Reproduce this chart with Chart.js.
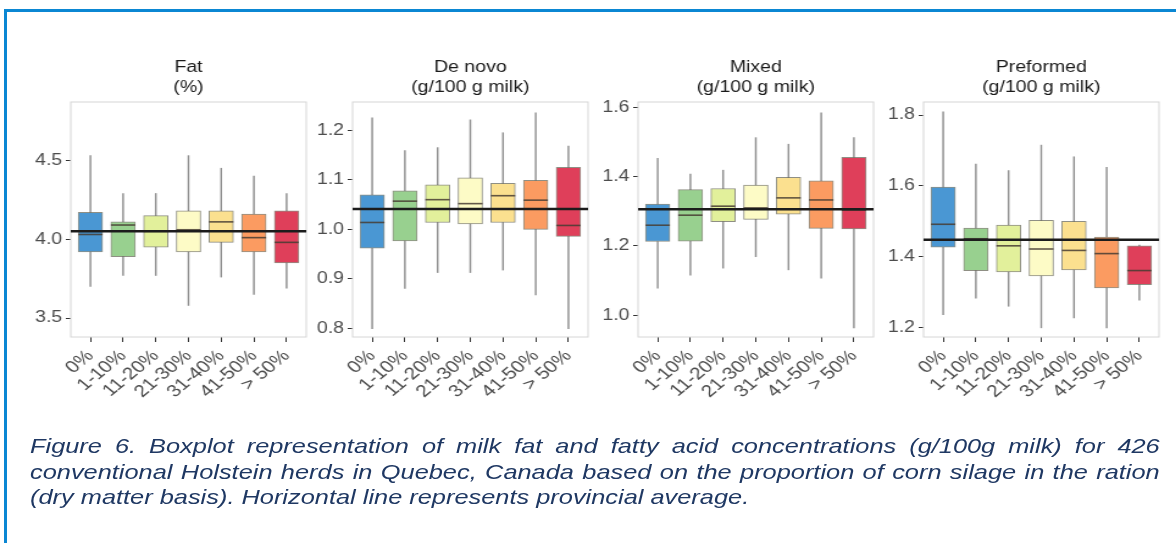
<!DOCTYPE html>
<html>
<head>
<meta charset="utf-8">
<script src="https://cdn.jsdelivr.net/npm/chart.js@4.4.1/dist/chart.umd.min.js"></script>
<style>
  html, body { margin: 0; padding: 0; background: #fff; }
  body { width: 1176px; height: 543px; position: relative; overflow: hidden; }
  .edge-top { position: absolute; left: 4px; top: 9px; width: 1172px; height: 3px; background: #0b87d3; }
  .edge-left { position: absolute; left: 4px; top: 9px; width: 3px; height: 534px; background: #0b87d3; }
  /* the reference figure is stretched sideways, so the whole page is too */
  #page { position: absolute; left: 0; top: 0; width: 964px; height: 543px; transform: scaleX(1.22); transform-origin: 0 0; }
  .panel { position: absolute; top: 50px; width: 242px; height: 360px; }
  .panel canvas { width: 242px; height: 360px; }
  .caption { position: absolute; left: 24.6px; top: 433px; width: 926px;
    font-family: 'Liberation Sans', Arial, sans-serif; font-style: italic;
    font-size: 20.8px; line-height: 25.5px; color: #1f3863; }
  .caption .j { text-align: justify; text-align-last: justify; }
</style>
</head>
<body>
<div class="edge-top"></div>
<div class="edge-left"></div>
<div id="page">
  <div class="panel" style="left:13.2px"><canvas id="fatChart" width="242" height="360"></canvas></div>
  <div class="panel" style="left:244.3px"><canvas id="denovoChart" width="242" height="360"></canvas></div>
  <div class="panel" style="left:478px"><canvas id="mixedChart" width="242" height="360"></canvas></div>
  <div class="panel" style="left:711.6px"><canvas id="preformedChart" width="242" height="360"></canvas></div>
  <div class="caption">
    <div class="j">Figure 6. Boxplot representation of milk fat and fatty acid concentrations (g/100g milk) for 426</div>
    <div class="j">conventional Holstein herds in Quebec, Canada based on the proportion of corn silage in the ration</div>
    <div>(dry matter basis). Horizontal line represents provincial average.</div>
  </div>
</div>
<script>
const silageLabels = ["0%", "1-10%", "11-20%", "21-30%", "31-40%", "41-50%", "> 50%"];
const boxColors = ["#4a97d3", "#98d08f", "#e2f09b", "#fdfbc6", "#fbe08f", "#fb9b61", "#df3f5a"];

// Fat (%)
const fatLow = [3.70, 3.77, 3.77, 3.58, 3.76, 3.65, 3.69];
const fatQ1 = [3.92, 3.89, 3.95, 3.92, 3.98, 3.92, 3.85];
const fatMed = [4.03, 4.09, 4.05, 4.06, 4.11, 4.01, 3.98];
const fatQ3 = [4.17, 4.11, 4.15, 4.18, 4.18, 4.16, 4.18];
const fatHigh = [4.53, 4.29, 4.29, 4.53, 4.45, 4.40, 4.29];
const fatAvg = 4.05;
const fatTicks = [3.5, 4.0, 4.5];

// De novo (g/100 g milk)
const denovoLow = [0.80, 0.881, 0.913, 0.913, 0.918, 0.868, 0.80];
const denovoQ1 = [0.962, 0.977, 1.014, 1.011, 1.014, 1.0, 0.986];
const denovoMed = [1.014, 1.057, 1.060, 1.052, 1.068, 1.059, 1.008];
const denovoQ3 = [1.070, 1.078, 1.090, 1.104, 1.093, 1.099, 1.125];
const denovoHigh = [1.225, 1.159, 1.165, 1.221, 1.195, 1.235, 1.168];
const denovoAvg = 1.041;
const denovoTicks = [0.8, 0.9, 1.0, 1.1, 1.2];

// Mixed (g/100 g milk)
const mixedLow = [1.078, 1.116, 1.136, 1.169, 1.131, 1.107, 0.963];
const mixedQ1 = [1.213, 1.214, 1.27, 1.277, 1.292, 1.251, 1.249];
const mixedMed = [1.26, 1.289, 1.315, 1.31, 1.339, 1.333, 1.304];
const mixedQ3 = [1.321, 1.363, 1.366, 1.376, 1.398, 1.388, 1.456];
const mixedHigh = [1.453, 1.408, 1.419, 1.513, 1.494, 1.585, 1.513];
const mixedAvg = 1.306;
const mixedTicks = [1.0, 1.2, 1.4, 1.6];

// Preformed (g/100 g milk)
const preformedLow = [1.235, 1.282, 1.259, 1.198, 1.226, 1.198, 1.276];
const preformedQ1 = [1.426, 1.36, 1.356, 1.345, 1.362, 1.311, 1.32];
const preformedMed = [1.491, 1.45, 1.43, 1.421, 1.417, 1.408, 1.36];
const preformedQ3 = [1.596, 1.48, 1.489, 1.502, 1.499, 1.455, 1.43];
const preformedHigh = [1.809, 1.661, 1.643, 1.715, 1.682, 1.652, 1.432];
const preformedAvg = 1.447;
const preformedTicks = [1.2, 1.4, 1.6, 1.8];

Chart.defaults.font.family = "'Liberation Sans', Arial, sans-serif";

// panel frame + provincial average line
const avgLine = {
  id: "avgLine",
  beforeDatasetsDraw(chart) {
    const { ctx, chartArea } = chart;
    ctx.save();
    ctx.strokeStyle = "#d6d6d6";
    ctx.lineWidth = 1;
    ctx.strokeRect(chartArea.left, chartArea.top, chartArea.width, chartArea.height);
    ctx.restore();
  },
  afterDatasetsDraw(chart, args, opts) {
    const { ctx, chartArea, scales } = chart;
    const y = scales.y.getPixelForValue(opts.value);
    ctx.save();
    ctx.strokeStyle = "#1c1c1c";
    ctx.lineWidth = 2.5;
    ctx.beginPath();
    ctx.moveTo(chartArea.left, y);
    ctx.lineTo(chartArea.right, y);
    ctx.stroke();
    ctx.restore();
  },
};

const makePanel = (id, title, low, q1, med, q3, high, avg, yMin, yMax, yTicks) => {
  const idx = silageLabels.map((_, i) => i);
  return new Chart(document.getElementById(id), {
    type: "bar",
    data: {
      datasets: [
        {
          type: "line",
          data: idx.map((i) => ({ x: i, y: med[i] })),
          showLine: false,
          pointStyle: "line",
          pointRadius: 10,
          pointHoverRadius: 10,
          pointBorderWidth: 1.6,
          pointBorderColor: "rgba(70,60,50,0.85)",
          order: 1,
        },
        {
          data: idx.map((i) => ({ x: i, y: [q1[i], q3[i]] })),
          backgroundColor: boxColors,
          borderColor: "rgba(95,95,80,0.7)",
          borderWidth: 1,
          borderSkipped: false,
          barThickness: 20,
          grouped: false,
          order: 2,
        },
        {
          data: idx.map((i) => ({ x: i, y: [low[i], q1[i]] })),
          backgroundColor: "#909090",
          barThickness: 0.8,
          grouped: false,
          order: 3,
        },
        {
          data: idx.map((i) => ({ x: i, y: [q3[i], high[i]] })),
          backgroundColor: "#909090",
          barThickness: 0.8,
          grouped: false,
          order: 3,
        },
      ],
    },
    options: {
      responsive: false,
      devicePixelRatio: 1,
      animation: false,
      layout: { autoPadding: false, padding: { left: 0, right: 4, top: 0, bottom: 0 } },
      plugins: {
        legend: { display: false },
        tooltip: { enabled: false },
        title: {
          display: true,
          text: title,
          fullSize: false,
          color: "#1a1a1a",
          font: { size: 16, weight: "normal", lineHeight: 1.25 },
          padding: { top: 8, bottom: 4 },
        },
        avgLine: { value: avg },
      },
      scales: {
        x: {
          type: "linear",
          offset: false,
          min: -0.6,
          max: 6.6,
          afterBuildTicks: (axis) => {
            axis.ticks = idx.map((i) => ({ value: i }));
          },
          afterFit: (axis) => {
            axis.height = 73;
            axis.paddingLeft = 0;
            axis.paddingRight = 0;
          },
          ticks: {
            autoSkip: false,
            minRotation: 45,
            maxRotation: 45,
            padding: 4,
            color: "#4d4d4d",
            font: { size: 17 },
            callback: (v, i) => silageLabels[i],
          },
          grid: { offset: false, drawOnChartArea: false, drawTicks: true, tickLength: 5, color: "#333" },
          border: { display: false },
        },
        y: {
          min: yMin,
          max: yMax,
          afterBuildTicks: (axis) => {
            axis.ticks = yTicks.map((v) => ({ value: v }));
          },
          afterFit: (axis) => {
            axis.width = 45;
          },
          ticks: {
            color: "#4d4d4d",
            font: { size: 16 },
            padding: 3,
            callback: (v) => Number(v).toFixed(1),
          },
          grid: { drawOnChartArea: false, drawTicks: true, tickLength: 4, color: "#333" },
          border: { display: false },
        },
      },
    },
    plugins: [avgLine],
  });
};

makePanel("fatChart", ["Fat", "(%)"], fatLow, fatQ1, fatMed, fatQ3, fatHigh, fatAvg, 3.38, 4.87, fatTicks);
makePanel("denovoChart", ["De novo", "(g/100 g milk)"], denovoLow, denovoQ1, denovoMed, denovoQ3, denovoHigh, denovoAvg, 0.783, 1.257, denovoTicks);
makePanel("mixedChart", ["Mixed", "(g/100 g milk)"], mixedLow, mixedQ1, mixedMed, mixedQ3, mixedHigh, mixedAvg, 0.937, 1.616, mixedTicks);
makePanel("preformedChart", ["Preformed", "(g/100 g milk)"], preformedLow, preformedQ1, preformedMed, preformedQ3, preformedHigh, preformedAvg, 1.172, 1.837, preformedTicks);
</script>
</body>
</html>
